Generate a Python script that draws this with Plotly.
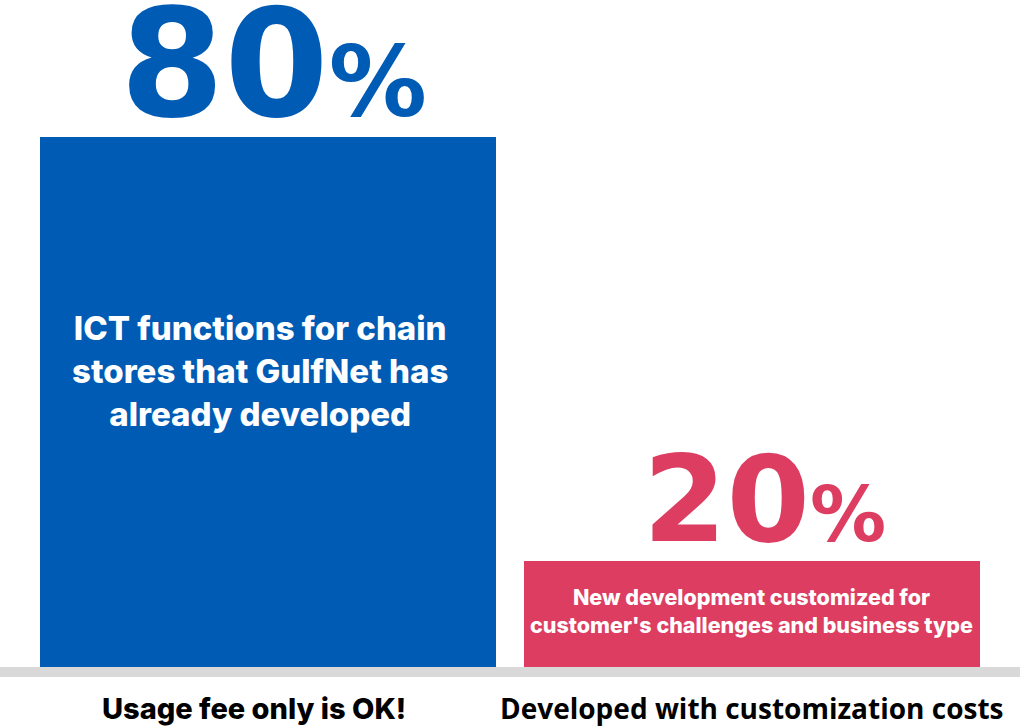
import plotly.graph_objects as go

# chart data
categories = ["ready", "custom"]
shares = [80, 20]
bar_colors = ["#005BB4", "#DD3D61"]
inner_texts = [
    "ICT functions for chain<br>stores that GulfNet has<br>already developed",
    "New development customized for<br>customer's challenges and business type",
]
bottom_labels = ["Usage fee only is OK!", "Developed with customization costs"]

W, H = 1020, 728
ML, MR, MT, MB = 26, 26, 0, 61
plot_h = H - MT - MB
y_base = 5
px_per_unit = 530 / 75
y_top = y_base + plot_h / px_per_unit

fig = go.Figure()
fig.add_trace(go.Bar(
    x=categories, y=shares,
    marker=dict(color=bar_colors, line=dict(width=0)),
    hoverinfo="skip",
))

# gray floor line under the bars
fig.add_shape(type="rect", xref="paper", yref="paper",
              x0=-ML / (W - ML - MR), x1=1 + MR / (W - ML - MR),
              y0=-10 / plot_h, y1=0,
              fillcolor="#D9D9D9", line=dict(width=0), layer="below")

big_sizes = [(150, 98), (120, 76)]
big_shift = [(5, -16), (12, -10)]
inner_fonts = [dict(size=33, family="Inter", color="white", weight=800),
               dict(size=21.5, family="Inter", color="white", weight=800)]
inner_y = [(330 + 412) / 2, (598 + 624) / 2]
inner_dx = [-8, -1]
label_fonts = [dict(size=29, family="Inter", color="black", weight=800),
               dict(size=28, family="Open Sans", color="black", weight=700)]
label_dx = [-14, -1]

for i, (cat, val) in enumerate(zip(categories, shares)):
    s_num, s_pct = big_sizes[i]
    fig.add_annotation(
        x=cat, y=val, yanchor="bottom",
        xshift=big_shift[i][0], yshift=big_shift[i][1],
        text=f"{val}<span style='font-size:{s_pct}px'>%</span>",
        showarrow=False,
        font=dict(size=s_num, family="DejaVu Sans", color=bar_colors[i], weight=700),
    )
    fig.add_annotation(
        x=cat, y=y_top - inner_y[i] / px_per_unit, yanchor="middle",
        xshift=inner_dx[i],
        text=inner_texts[i], showarrow=False, align="center",
        font=inner_fonts[i],
    )
    fig.add_annotation(
        x=cat, yref="paper", y=-(708 - 667) / plot_h, yanchor="middle",
        xshift=label_dx[i],
        text=bottom_labels[i], showarrow=False, font=label_fonts[i],
    )

fig.update_layout(
    width=W, height=H,
    margin=dict(l=ML, r=MR, t=MT, b=MB),
    paper_bgcolor="white", plot_bgcolor="white",
    bargap=28 / 484,
    showlegend=False,
    xaxis=dict(visible=False, range=[-0.5, 1.5]),
    yaxis=dict(visible=False, range=[y_base, y_top]),
)

# drop the default page margin so the figure sits at the window's corner
fig.write_html("out.html", config={"displayModeBar": False},
               post_script="document.body.style.margin='0';")
